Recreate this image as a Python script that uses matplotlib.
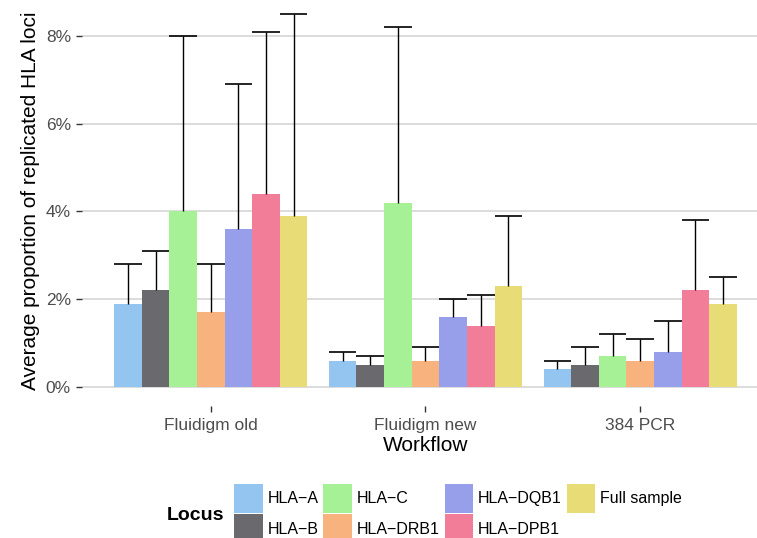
import numpy as np
import matplotlib
matplotlib.use("Agg")
import matplotlib.pyplot as plt
from matplotlib.patches import Patch

plt.rcParams['font.family'] = ['Liberation Sans', 'DejaVu Sans']

# data (percent)
workflows = ["Fluidigm old", "Fluidigm new", "384 PCR"]
loci = ["HLA\u2212A", "HLA\u2212B", "HLA\u2212C", "HLA\u2212DRB1",
        "HLA\u2212DQB1", "HLA\u2212DPB1", "Full sample"]
means = {
    "HLA\u2212A":    [1.9, 0.6, 0.4],
    "HLA\u2212B":    [2.2, 0.5, 0.5],
    "HLA\u2212C":    [4.0, 4.2, 0.7],
    "HLA\u2212DRB1": [1.7, 0.6, 0.6],
    "HLA\u2212DQB1": [3.6, 1.6, 0.8],
    "HLA\u2212DPB1": [4.4, 1.4, 2.2],
    "Full sample":  [3.9, 2.3, 1.9],
}
upper = {
    "HLA\u2212A":    [2.8, 0.8, 0.6],
    "HLA\u2212B":    [3.1, 0.7, 0.9],
    "HLA\u2212C":    [8.0, 8.2, 1.2],
    "HLA\u2212DRB1": [2.8, 0.9, 1.1],
    "HLA\u2212DQB1": [6.9, 2.0, 1.5],
    "HLA\u2212DPB1": [8.1, 2.1, 3.8],
    "Full sample":  [8.5, 3.9, 2.5],
}
colors = ["#94c4f0", "#6a6a6e", "#a6f095", "#f8b27e", "#979eea", "#f27d98", "#e8dc76"]

fig = plt.figure(figsize=(7.57, 5.38), dpi=100)
ax = fig.add_axes([82/757, (538-405.6)/538, 687/757, 410.2/538])

x = np.arange(len(workflows))
n = len(loci)
w = 0.9 / n
for i, (locus, c) in enumerate(zip(loci, colors)):
    pos = x + (i - (n - 1) / 2) * w
    m = np.array(means[locus])
    u = np.array(upper[locus])
    ax.bar(pos, m, width=w, color=c, zorder=2, linewidth=0)
    ax.vlines(pos, m, u, color="black", lw=1.0, zorder=3)
    ax.hlines(u, pos - w / 2, pos + w / 2, color="black", lw=1.2, zorder=3)

ax.set_xlim(-0.6, 2.6)
ax.set_ylim(-0.425, 8.925)
ax.set_yticks([0, 2, 4, 6, 8])
ax.set_yticklabels(["0%", "2%", "4%", "6%", "8%"])
ax.set_xticks(x)
ax.set_xticklabels(workflows)
ax.grid(axis="y", color="#d9d9d9", lw=1.3, zorder=0)
ax.set_axisbelow(True)
for s in ax.spines.values():
    s.set_visible(False)
ax.tick_params(axis="both", colors="#333333", labelcolor="#4d4d4d",
               labelsize=12.5, length=4, width=1)
ax.tick_params(axis="y", pad=4)
ax.tick_params(axis="x", pad=5)
ax.set_xlabel("Workflow", fontsize=15, labelpad=2)
ax.set_ylabel("Average proportion of replicated HLA loci", fontsize=15, labelpad=4)

handles = [Patch(facecolor=c, edgecolor="none") for c in colors]
fig.legend(handles, loci, loc="upper left", bbox_to_anchor=(234/757, (538-484)/538),
           ncol=4, frameon=False, fontsize=11.5, borderpad=0, borderaxespad=0,
           handlelength=1.8, handleheight=2.4, handletextpad=0.3,
           labelspacing=0.1, columnspacing=0.3)
fig.text(167/757, (538-516)/538, "Locus", fontsize=14, fontweight="bold", va="center")

fig.savefig("out.png", dpi=100)
